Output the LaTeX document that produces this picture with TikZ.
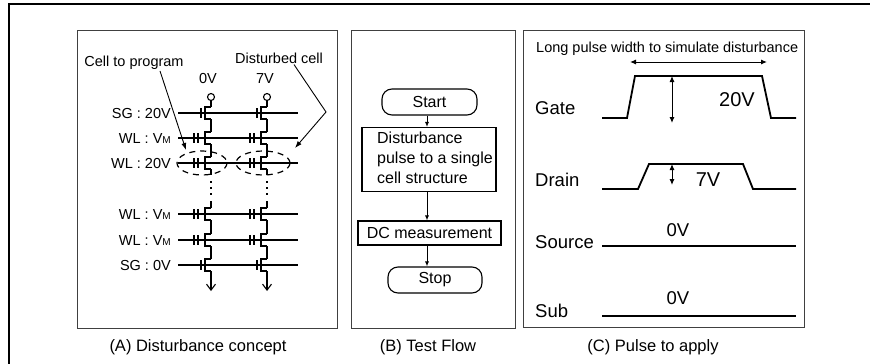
\documentclass[tikz,border=0pt]{standalone}
\usepackage{fontspec}
\setmainfont{Liberation Sans}
\usetikzlibrary{positioning,arrows.meta}

\newcommand{\wlvm}{V{\fontsize{10}{10}\selectfont M}}

\tikzset{
  panel/.style={draw=black!75, line width=0.8pt},
  capt/.style={font=\fontsize{16.5}{18}\selectfont},
  txta/.style={font=\fontsize{14.5}{16}\selectfont, inner sep=1pt},
  wire/.style={line width=1.1pt},
  cellsel/.style={dash pattern=on 6pt off 5pt, line width=1.2pt},
  pointer/.style={line width=0.9pt, -{Latex[length=7pt,width=5pt]}},
  flowbox/.style={draw, line width=1.1pt, font=\fontsize{16}{20}\selectfont, inner sep=2pt},
  flowend/.style={flowbox, rounded corners=10pt, minimum height=26pt},
  flowarrow/.style={line width=0.9pt, -{Latex[length=5pt,width=4pt]}},
  pulse/.style={line width=1.8pt},
  sig/.style={font=\fontsize{18.5}{20}\selectfont, inner sep=0pt},
  amp/.style={font=\fontsize{20}{22}\selectfont, inner sep=0pt},
  spanarrow/.style={line width=1pt, {Latex[length=6pt,width=5pt]}-{Latex[length=6pt,width=5pt]}},
}

\begin{document}
\begin{tikzpicture}[x=1pt,y=-1pt]
	\useasboundingbox (0,0) rectangle (870,364);
	\draw[line width=1.2pt] (9,364) -- (9,4) -- (870,4);
	% panels and captions
	\draw[panel] (77,30) rectangle (337,328);
	\draw[panel] (351,30) rectangle (515,328);
	\draw[panel] (523,30) rectangle (804,327);
	\node[capt] (captA) at (198,347) {(A) Disturbance concept};
	\node[capt] (captB) at (428,347) {(B) Test Flow};
	\node[capt] (captC) at (653,347) {(C) Pulse to apply};

	% (A) two NAND strings
	\foreach \ry/\txt in {113/SG : 20V, 138/WL : \wlvm, 163/WL : 20V, 214/WL : \wlvm, 240/WL : \wlvm, 265/SG : 0V}{
		\draw[wire] (178,\ry) -- (298,\ry);
		\node[txta, anchor=base east] (row\ry) at (172,\ry+5) {\txt};
	}
	\foreach \cx in {211,267}{
		\draw[wire] (\cx,97) circle (3.5);
		\draw[wire] (\cx,100.5) -- (\cx,107);
		\foreach \ry in {113,138,163,214,240,265}
			\draw[wire] (\cx,\ry-6) -- (\cx-6,\ry-6) -- (\cx-6,\ry+6) -- (\cx,\ry+6);
		\foreach \ry in {113,265}
			\draw[wire] (\cx-10,\ry-5) -- (\cx-10,\ry+5);
		\foreach \ry in {138,163,214,240}
			\draw[wire] (\cx-17,\ry-5) -- (\cx-17,\ry+5) (\cx-13,\ry-5) -- (\cx-13,\ry+5);
		\foreach \ra/\rb in {113/138,138/163,214/240,240/265}
			\draw[wire] (\cx,\ra+6) -- (\cx,\rb-6);
		\draw[wire] (\cx,169) -- (\cx,175);
		\draw[wire, dash pattern=on 1.5pt off 4.5pt] (\cx,181) -- (\cx,196);
		\draw[wire] (\cx,201) -- (\cx,208);
		\draw[wire, -{Straight Barb[length=6pt,width=9pt]}] (\cx,271) -- (\cx,291);
	}
	\draw[cellsel] (202,163) ellipse [x radius=25, y radius=12];
	\draw[cellsel] (263,163) ellipse [x radius=27, y radius=12];
	\node[txta] (prog) at (134,63) {Cell to program};
	\node[txta] (dist) at (279,58) {Disturbed cell};
	\node[txta] (vd0) at (208,79) {0V};
	\node[txta] (vd7) at (265,79) {7V};
	\coordinate (progtip) at (186,150);
	\coordinate (distbend) at (326,112);
	\coordinate (disttip) at (295,148);
	\draw[pointer] ([xshift=26pt]prog.south) -- (progtip);
	\draw[pointer] ([xshift=15pt]dist.south) -- (distbend) -- (disttip);

	% (B) test flow
	\coordinate (flowx) at (427,0);
	\node[flowend, minimum width=95pt] (start) at (429.5,102) {Start};
	\node[flowbox, minimum width=134pt, minimum height=63pt] (pulsebox) at (429,159.5)
		{\hspace*{12pt}\begin{tabular}{@{}l@{}}Disturbance\\pulse to a single\\cell structure\end{tabular}};
	\node[flowbox, minimum width=143pt, minimum height=24pt] (dcmeas) at (429.5,233) {DC measurement};
	\node[flowend, minimum width=94pt] (stop) at (435,280) {Stop};
	\draw[flowarrow] (start.south -| flowx) -- (pulsebox.north -| flowx);
	\draw[flowarrow] (pulsebox.south -| flowx) -- (dcmeas.north -| flowx);
	\draw[flowarrow] (dcmeas.south -| flowx) -- (stop.north -| flowx);

	% (C) pulses
	\node[txta, anchor=base west] (longtxt) at (535,52) {Long pulse width to simulate disturbance};
	\coordinate (wleft) at (630,62);
	\coordinate (wright) at (767,62);
	\draw[spanarrow] (wleft) -- (wright);
	\draw[pulse] (602,118) -- (627,118) -- (635,76) -- (762,76) -- (771,118) -- (796,118);
	\draw[pulse] (602,189) -- (638,189) -- (649,164) -- (743,164) -- (753,189) -- (796,189);
	\draw[pulse] (602,246) -- (796,246);
	\draw[pulse] (602,316) -- (796,316);
	\coordinate (gtop) at (672,76);
	\coordinate (gbot) at (672,123);
	\coordinate (dtop) at (672,164);
	\coordinate (dbot) at (672,185);
	\draw[spanarrow] (gtop) -- (gbot);
	\draw[spanarrow] (dtop) -- (dbot);
	\node[sig, anchor=base west] (gate) at (535,114.6) {Gate};
	\node[sig, anchor=base west] (drain) at (535,186.6) {Drain};
	\node[sig, anchor=base west] (source) at (535,248.6) {Source};
	\node[sig, anchor=base west] (sub) at (535,317.5) {Sub};
	\node[amp] (gamp) at (737,100) {20V};
	\node[amp] (damp) at (708,180) {7V};
	\node[sig] (samp) at (678,230) {0V};
	\node[sig] (bamp) at (678,298) {0V};
\end{tikzpicture}
\end{document}
